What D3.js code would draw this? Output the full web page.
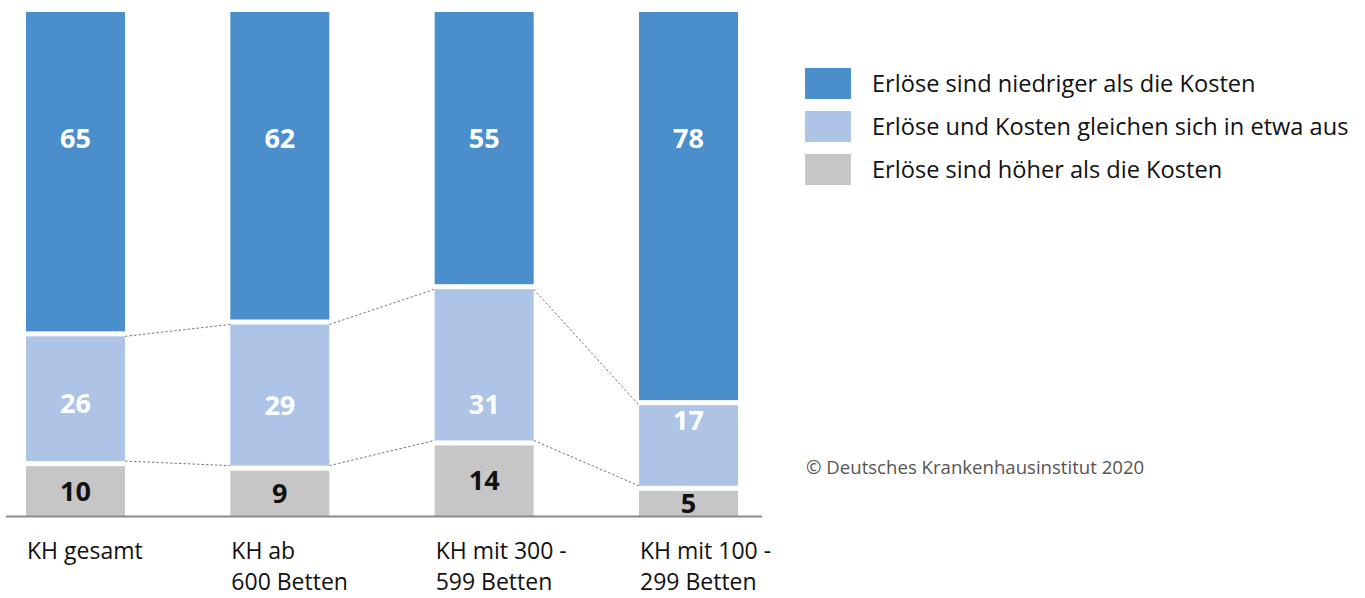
<!DOCTYPE html>
<html>
<head>
<meta charset="utf-8">
<script src="https://cdn.jsdelivr.net/npm/d3@7"></script>
<style>
  html, body { margin: 0; padding: 0; background: #fff; }
  svg { display: block; font-family: "Open Sans", "Noto Sans", sans-serif; }
</style>
</head>
<body>
<svg id="chart" width="1365" height="598"></svg>
<script>
// Data
const categories = [
  ['KH gesamt'],
  ['KH ab', '600 Betten'],
  ['KH mit 300 -', '599 Betten'],
  ['KH mit 100 -', '299 Betten']
];
const seriesNames = [
  'Erlöse sind höher als die Kosten',
  'Erlöse und Kosten gleichen sich in etwa aus',
  'Erlöse sind niedriger als die Kosten'
];
const hoeher = [10, 9, 14, 5];
const gleich = [26, 29, 31, 17];
const niedriger = [65, 62, 55, 78];
const copyright = '© Deutsches Krankenhausinstitut 2020';

// Styles
const colors = ['#c6c6c6', '#aec4e6', '#4a8fcc'];
const labelColors = ['#111', '#fff', '#fff'];
const gap = 5;

const svg = d3.select('#chart');

const x = d3.scaleBand()
  .domain(d3.range(categories.length))
  .range([26, 738])
  .paddingInner(0.5155)
  .paddingOuter(0);

// 100% stacked
const y = d3.scaleLinear().domain([0, 1]).range([516, 12]);

const series = [hoeher, gleich, niedriger];
const rows = categories.map((c, i) => {
  const total = hoeher[i] + gleich[i] + niedriger[i];
  let cum = 0;
  return series.map((s, k) => {
    const seg = { k, i, value: s[i], y0: cum / total, y1: (cum + s[i]) / total };
    cum += s[i];
    return seg;
  });
});

// segment rect geometry
function segTop(d) { return y(d.y1); }
function segBottom(d) { return y(d.y0) - (d.k > 0 ? gap : 0); }

const g = svg.append('g');

// series lines (dashed) for the middle series
const lineData = [];
for (let i = 0; i < rows.length - 1; i++) {
  const a = rows[i][1], b = rows[i + 1][1];
  lineData.push([x(i) + x.bandwidth(), segTop(a), x(i + 1), segTop(b)]);
  lineData.push([x(i) + x.bandwidth(), segBottom(a), x(i + 1), segBottom(b)]);
}
g.selectAll('line.series')
  .data(lineData)
  .join('line')
  .attr('class', 'series')
  .attr('x1', d => d[0]).attr('y1', d => d[1])
  .attr('x2', d => d[2]).attr('y2', d => d[3])
  .attr('stroke', '#777')
  .attr('stroke-width', 1)
  .attr('stroke-dasharray', '2.5,2');

const segs = rows.flat();
g.selectAll('rect.seg')
  .data(segs)
  .join('rect')
  .attr('class', 'seg')
  .attr('x', d => x(d.i))
  .attr('width', x.bandwidth())
  .attr('y', segTop)
  .attr('height', d => segBottom(d) - segTop(d))
  .attr('fill', d => colors[d.k]);

// axis line
svg.append('line')
  .attr('x1', 6).attr('x2', 762)
  .attr('y1', y(0) + 0.5).attr('y2', y(0) + 0.5)
  .attr('stroke', '#8a8a8a')
  .attr('stroke-width', 2);

// value labels
const lightShift = [5, 10, 39, -25];
function labelY(d) {
  if (d.k === 2) return y(1) + 126;
  const c = (segTop(d) + segBottom(d)) / 2;
  return d.k === 1 ? c + lightShift[d.i] : c;
}
g.selectAll('text.val')
  .data(segs)
  .join('text')
  .attr('class', 'val')
  .attr('x', d => x(d.i) + x.bandwidth() / 2)
  .attr('y', labelY)
  .attr('dy', '0.36em')
  .attr('text-anchor', 'middle')
  .attr('font-size', 27)
  .attr('font-weight', 700)
  .attr('fill', d => labelColors[d.k])
  .text(d => d.value);

// category labels
const cat = svg.selectAll('text.cat')
  .data(categories)
  .join('text')
  .attr('class', 'cat')
  .attr('x', (d, i) => x(i) + 1)
  .attr('y', 559)
  .attr('font-size', 23)
  .attr('fill', '#111');
cat.selectAll('tspan')
  .data(d => d)
  .join('tspan')
  .attr('x', function () { return d3.select(this.parentNode).attr('x'); })
  .attr('dy', (d, j) => j === 0 ? 0 : 31)
  .text(d => d);

// legend
const legendOrder = [2, 1, 0];
const leg = svg.append('g').attr('transform', 'translate(805,68)');
const item = leg.selectAll('g')
  .data(legendOrder)
  .join('g')
  .attr('transform', (d, j) => `translate(0,${j * 43})`);
item.append('rect')
  .attr('width', 46).attr('height', 31)
  .attr('fill', k => colors[k]);
item.append('text')
  .attr('x', 67).attr('y', 15)
  .attr('dy', '0.36em')
  .attr('font-size', 23.6)
  .attr('fill', '#111')
  .text(k => seriesNames[k]);

svg.append('text')
  .attr('x', 806).attr('y', 467)
  .attr('dy', '0.36em')
  .attr('font-size', 18.6)
  .attr('fill', '#555')
  .text(copyright);
</script>
</body>
</html>
